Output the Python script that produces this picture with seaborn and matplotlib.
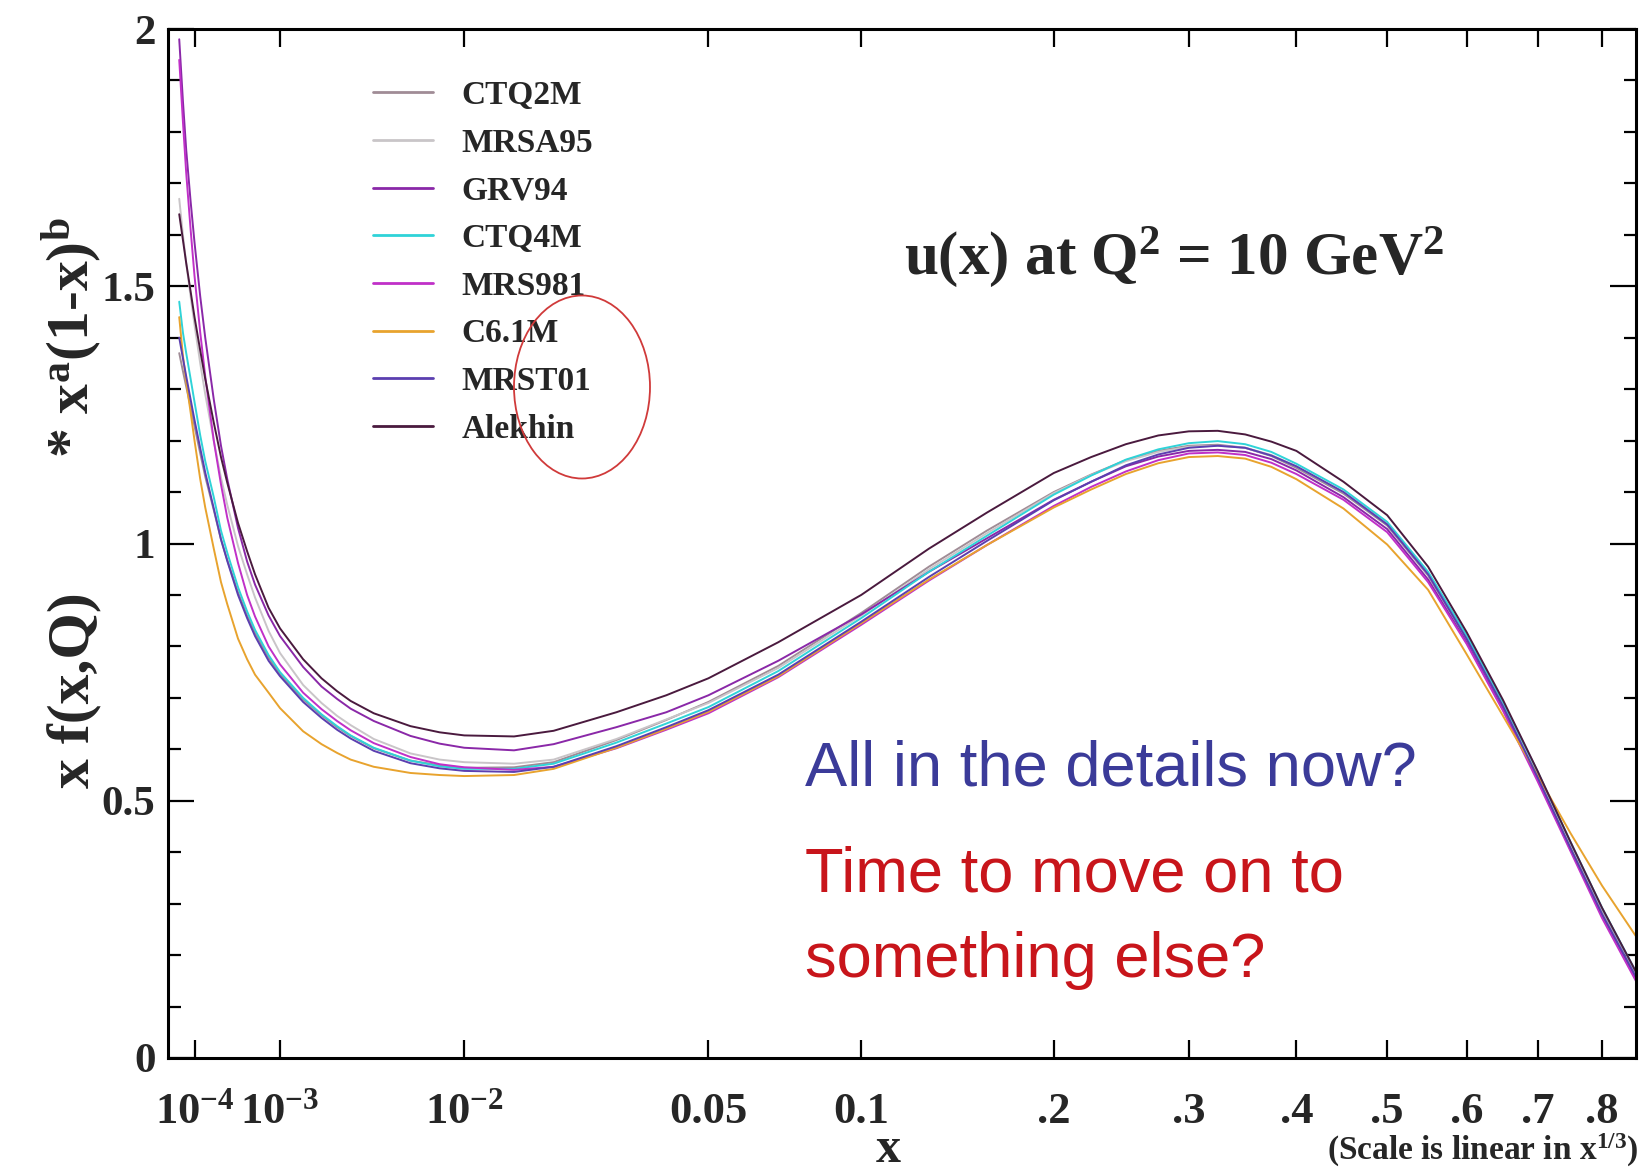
import numpy as np
import pandas as pd
import matplotlib
matplotlib.use("Agg")
import matplotlib.pyplot as plt
import seaborn as sns
from matplotlib.patches import Ellipse
from matplotlib.ticker import FixedLocator, MultipleLocator, NullLocator

sns.set_style("ticks")
plt.rcParams.update({
    "font.family": ["Liberation Serif", "DejaVu Serif"],
    "font.weight": "bold",
    "mathtext.fontset": "custom",
    "mathtext.rm": "Liberation Serif:bold",
    "mathtext.it": "Liberation Serif:bold",
    "mathtext.bf": "Liberation Serif:bold",
    "mathtext.default": "rm",
})

# momentum fraction x
x_grid = [5e-5, 6e-5, 7e-5, 8.5e-5, 1e-4, 1.25e-4, 1.5e-4, 2e-4, 2.5e-4, 3e-4,
          4e-4, 5e-4, 6e-4, 8e-4, 1e-3, 1.5e-3, 2e-3, 2.5e-3, 3e-3, 4e-3,
          6e-3, 8e-3, 1e-2, 1.5e-2, 2e-2, 3e-2, 4e-2, 5e-2, 7e-2, 0.1,
          0.13, 0.16, 0.2, 0.225, 0.25, 0.275, 0.3, 0.325, 0.35, 0.375,
          0.4, 0.45, 0.5, 0.55, 0.6, 0.65, 0.7, 0.75, 0.8, 0.856]

# x f(x,Q) * x^a (1-x)^b for the u quark at Q^2 = 10 GeV^2
ctq2m = [1.37, 1.335, 1.305, 1.265, 1.228, 1.175, 1.13, 1.065, 1.008, 0.968,
         0.905, 0.86, 0.826, 0.778, 0.746, 0.697, 0.666, 0.643, 0.626, 0.602,
         0.578, 0.569, 0.564, 0.565, 0.575, 0.618, 0.657, 0.692, 0.762, 0.865,
         0.955, 1.025, 1.100, 1.134, 1.162, 1.180, 1.190, 1.192, 1.186, 1.170,
         1.147, 1.097, 1.035, 0.938, 0.815, 0.686, 0.550, 0.414, 0.288, 0.165]
mrsa95 = [1.67, 1.60, 1.545, 1.48, 1.425, 1.35, 1.29, 1.20, 1.128, 1.075,
          0.995, 0.94, 0.895, 0.83, 0.787, 0.725, 0.69, 0.665, 0.647, 0.62,
          0.592, 0.58, 0.575, 0.572, 0.58, 0.62, 0.658, 0.69, 0.758, 0.86,
          0.95, 1.02, 1.098, 1.133, 1.160, 1.178, 1.188, 1.190, 1.186, 1.172,
          1.150, 1.100, 1.038, 0.940, 0.818, 0.688, 0.552, 0.416, 0.290, 0.167]
grv94 = [1.98, 1.86, 1.765, 1.665, 1.585, 1.48, 1.40, 1.28, 1.19, 1.125,
         1.03, 0.965, 0.92, 0.86, 0.82, 0.76, 0.722, 0.698, 0.679, 0.655,
         0.626, 0.611, 0.603, 0.598, 0.61, 0.643, 0.672, 0.705, 0.772, 0.862,
         0.945, 1.01, 1.085, 1.120, 1.150, 1.169, 1.180, 1.182, 1.178, 1.164,
         1.142, 1.090, 1.028, 0.930, 0.808, 0.678, 0.542, 0.405, 0.278, 0.155]
ctq4m = [1.47, 1.41, 1.37, 1.32, 1.275, 1.21, 1.16, 1.09, 1.025, 0.982,
         0.915, 0.868, 0.832, 0.783, 0.75, 0.70, 0.668, 0.645, 0.627, 0.603,
         0.578, 0.567, 0.562, 0.562, 0.572, 0.613, 0.65, 0.682, 0.752, 0.855,
         0.945, 1.015, 1.095, 1.132, 1.163, 1.183, 1.195, 1.199, 1.193, 1.178,
         1.155, 1.105, 1.042, 0.945, 0.822, 0.692, 0.557, 0.420, 0.292, 0.168]
mrs981 = [1.94, 1.82, 1.72, 1.61, 1.52, 1.41, 1.325, 1.20, 1.115, 1.05,
          0.962, 0.90, 0.858, 0.80, 0.765, 0.71, 0.678, 0.655, 0.637, 0.612,
          0.585, 0.571, 0.565, 0.56, 0.566, 0.602, 0.638, 0.67, 0.74, 0.842,
          0.928, 0.997, 1.073, 1.110, 1.140, 1.162, 1.175, 1.177, 1.172, 1.157,
          1.135, 1.085, 1.022, 0.925, 0.805, 0.675, 0.538, 0.402, 0.272, 0.150]
c61m = [1.44, 1.365, 1.315, 1.255, 1.20, 1.125, 1.07, 0.99, 0.925, 0.882,
        0.815, 0.775, 0.745, 0.71, 0.68, 0.635, 0.61, 0.593, 0.58, 0.566,
        0.554, 0.55, 0.548, 0.55, 0.562, 0.603, 0.64, 0.673, 0.742, 0.845,
        0.93, 0.997, 1.070, 1.105, 1.135, 1.156, 1.168, 1.170, 1.165, 1.149,
        1.125, 1.068, 0.998, 0.910, 0.785, 0.665, 0.550, 0.437, 0.335, 0.237]
mrst01 = [1.40, 1.36, 1.325, 1.28, 1.24, 1.185, 1.138, 1.068, 1.008, 0.966,
          0.90, 0.855, 0.82, 0.772, 0.742, 0.692, 0.661, 0.638, 0.621, 0.597,
          0.573, 0.563, 0.558, 0.556, 0.566, 0.606, 0.643, 0.676, 0.745, 0.848,
          0.935, 1.005, 1.084, 1.120, 1.152, 1.173, 1.186, 1.190, 1.186, 1.171,
          1.150, 1.100, 1.037, 0.940, 0.815, 0.684, 0.546, 0.408, 0.280, 0.158]
alekhin = [1.64, 1.59, 1.545, 1.49, 1.44, 1.375, 1.32, 1.235, 1.168, 1.118,
           1.04, 0.985, 0.94, 0.875, 0.835, 0.775, 0.738, 0.713, 0.694, 0.67,
           0.645, 0.633, 0.627, 0.625, 0.636, 0.672, 0.705, 0.738, 0.808, 0.90,
           0.99, 1.06, 1.137, 1.168, 1.193, 1.210, 1.218, 1.219, 1.212, 1.198,
           1.180, 1.120, 1.055, 0.955, 0.828, 0.696, 0.558, 0.420, 0.292, 0.168]

pdf_names = ["CTQ2M", "MRSA95", "GRV94", "CTQ4M", "MRS981", "C6.1M", "MRST01", "Alekhin"]
pdf_values = [ctq2m, mrsa95, grv94, ctq4m, mrs981, c61m, mrst01, alekhin]
pdf_colors = ["#a08c96", "#c9c5c8", "#8a28a8", "#2fd3d8", "#c030c8", "#e8a32e",
              "#5b3fb0", "#4a1a3e"]

x_ticks = [1e-4, 1e-3, 1e-2, 0.05, 0.1, 0.2, 0.3, 0.4, 0.5, 0.6, 0.7, 0.8]
x_tick_labels = [r"10$^{-4}$", r"10$^{-3}$", r"10$^{-2}$", "0.05", "0.1",
                 ".2", ".3", ".4", ".5", ".6", ".7", ".8"]
y_ticks = [0, 0.5, 1, 1.5, 2]
y_tick_labels = ["0", "0.5", "1", "1.5", "2"]

df = pd.DataFrame({
    "x": np.tile(x_grid, len(pdf_names)),
    "value": np.concatenate(pdf_values),
    "pdf": np.repeat(pdf_names, len(x_grid)),
})

W, H = 1639, 1170
fig = plt.figure(figsize=(W / 100, H / 100), dpi=100, facecolor="white")
ax = fig.add_axes([168 / W, 1 - 1058 / H, (1636 - 168) / W, (1058 - 29) / H])

sns.lineplot(data=df, x="x", y="value", hue="pdf", hue_order=pdf_names,
             palette=dict(zip(pdf_names, pdf_colors)), estimator=None,
             linewidth=1.4, ax=ax)

# horizontal axis linear in x^(1/3)
ax.set_xscale("function", functions=(np.cbrt, lambda u: np.power(u, 3)))
ax.set_xlim(0.0298 ** 3, 0.9496 ** 3)
ax.set_ylim(0, 2)

ax.xaxis.set_major_locator(FixedLocator(x_ticks))
ax.xaxis.set_minor_locator(NullLocator())
ax.set_xticklabels(x_tick_labels)
ax.yaxis.set_major_locator(FixedLocator(y_ticks))
ax.yaxis.set_minor_locator(MultipleLocator(0.1))
ax.set_yticklabels(y_tick_labels)

for side in ["left", "right", "top", "bottom"]:
    ax.spines[side].set_linewidth(2.2)
    ax.spines[side].set_color("black")

ax.tick_params(axis="both", which="both", direction="in", top=True, right=True,
               color="black", width=1.6)
ax.tick_params(axis="x", which="major", length=13, labelsize=32, pad=47)
ax.tick_params(axis="y", which="major", length=19, labelsize=31, pad=9)
ax.tick_params(axis="y", which="minor", length=9)
for lab in ax.get_xticklabels():
    lab.set_verticalalignment("baseline")

ax.set_xlabel("")
ax.set_ylabel("")

# vertical axis title in two pieces
fig.text(89 / W, 1 - 690 / H, "x f(x,Q)", rotation=90, rotation_mode="anchor",
         ha="center", va="baseline", fontsize=43)
fig.text(89 / W, 1 - 338 / H, r"* x$^{a}$(1-x)$^{b}$", rotation=90,
         rotation_mode="anchor", ha="center", va="baseline", fontsize=43)

handles, labels = ax.get_legend_handles_labels()
leg = ax.legend(handles, labels, loc="upper left",
                bbox_to_anchor=(373 / W, 1 - 80 / H), bbox_transform=fig.transFigure,
                frameon=False, fontsize=24, handlelength=1.8, handletextpad=0.85,
                labelspacing=0.5, borderpad=0, borderaxespad=0)
for line in leg.get_lines():
    line.set_linewidth(2.0)

fig.add_artist(Ellipse((582 / W, 1 - 387 / H), 136 / W, 183 / H,
                       transform=fig.transFigure, fill=False,
                       edgecolor="#d03a3a", linewidth=1.3))

fig.text(904 / W, 1 - 274 / H, r"u(x) at Q$^{2}$ = 10 GeV$^{2}$",
         fontsize=44, ha="left", va="baseline")

sans = ["Liberation Sans", "DejaVu Sans"]
fig.text(805 / W, 1 - 786 / H, "All in the details now?", family=sans,
         weight="normal", fontsize=45.5, color="#3b3b99", ha="left", va="baseline")
fig.text(805 / W, 1 - 891 / H, "Time to move on to", family=sans,
         weight="normal", fontsize=45.5, color="#c8151b", ha="left", va="baseline")
fig.text(805 / W, 1 - 977 / H, "something else?", family=sans,
         weight="normal", fontsize=45.5, color="#c8151b", ha="left", va="baseline")

fig.text(888 / W, 1 - 1162 / H, "x", fontsize=36, ha="center", va="baseline")
fig.text(1.0, 1 - 1160 / H, r"(Scale is linear in x$^{1/3}$)", fontsize=24,
         ha="right", va="baseline")

fig.savefig("out.png", dpi=100, facecolor="white")
